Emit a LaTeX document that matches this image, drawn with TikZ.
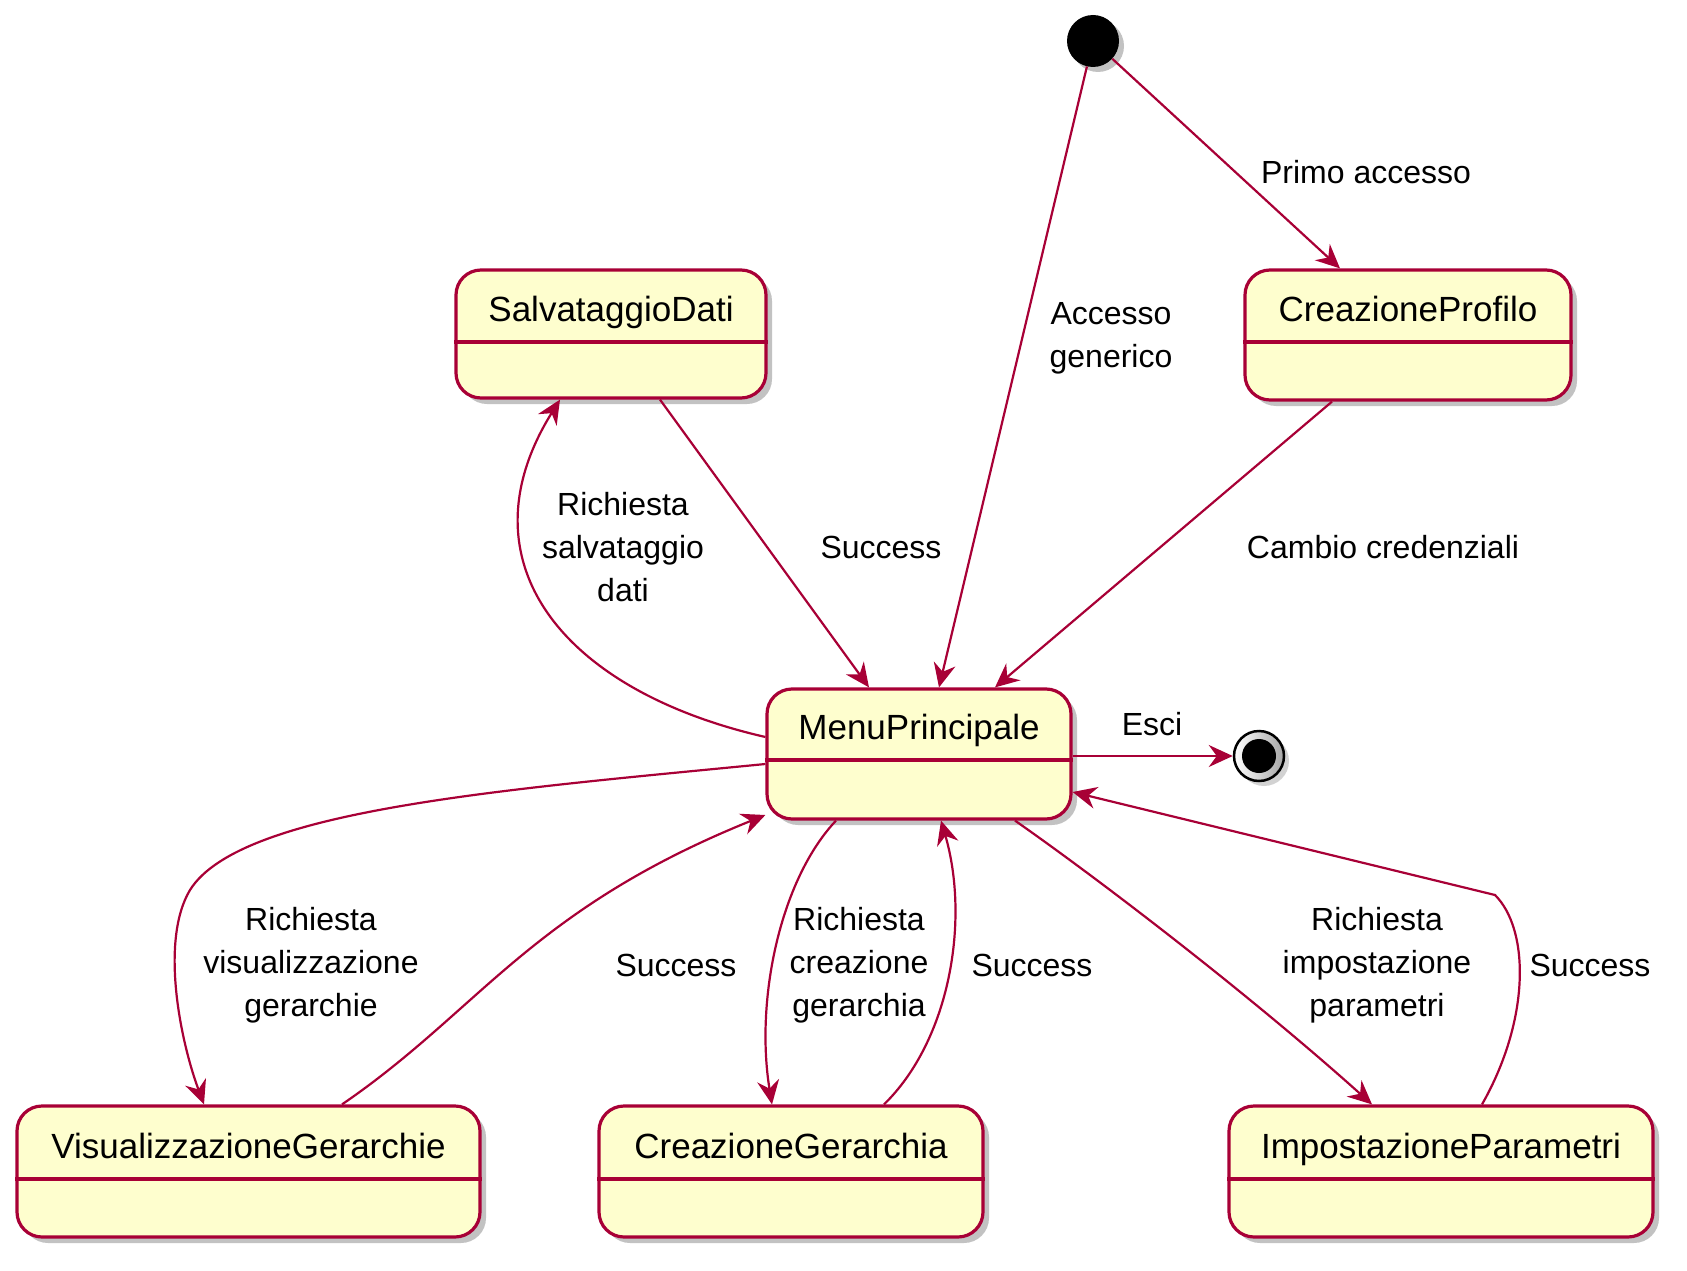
\documentclass[tikz,border=0pt]{standalone}
\usepackage{fontspec}
\newfontfamily\umlfont{Liberation Sans}
\usetikzlibrary{arrows.meta,shadows,calc}
\definecolor{bord}{HTML}{A80036}
\definecolor{statefill}{HTML}{FEFECE}
\newcommand\stfont{\umlfont\fontsize{35}{42}\selectfont}
\newcommand\lbfont{\umlfont\fontsize{32}{43}\selectfont}
\tikzset{
  stbox/.style={draw=bord, fill=statefill, line width=3.2pt, rounded corners=25pt,
    inner sep=0pt,
    drop shadow={shadow xshift=6pt, shadow yshift=-6pt, fill=black!40, opacity=0.6}},
  sname/.style={font=\stfont, anchor=base, inner sep=0pt},
  divline/.style={draw=bord, line width=3.2pt},
  lbl/.style={font=\lbfont, align=center, inner sep=0pt},
  tr/.style={draw=bord, line width=2.2pt, -{Stealth[length=24pt, width=22pt, inset=8pt]}}
}
\begin{document}
\begin{tikzpicture}[x=1pt, y=-1pt]
\useasboundingbox (0,0) rectangle (1687,1271);

% initial and final states
\node[circle, fill=black, minimum size=52pt, inner sep=0pt,
  drop shadow={shadow xshift=5pt, shadow yshift=-5pt, fill=black!40, opacity=0.6}] (start) at (1093,41) {};
\node[circle, draw=black, line width=2.5pt, left color=white, right color=gray!70, minimum size=50pt, inner sep=0pt,
  drop shadow={shadow xshift=5pt, shadow yshift=-5pt, fill=black!35, opacity=0.5}] (end) at (1259,756) {};
\node[circle, fill=black, minimum size=34pt, inner sep=0pt] (endIn) at (1259,756) {};

% states
\node[stbox, minimum width=310pt, minimum height=128pt] (salv) at (611,334) {};
\node[sname] (salvT) at (611,321) {SalvataggioDati};
\draw[divline] (salv.west |- 0,342) -- (salv.east |- 0,342);

\node[stbox, minimum width=326pt, minimum height=130pt] (cprof) at (1408,335) {};
\node[sname] (cprofT) at (1408,321) {CreazioneProfilo};
\draw[divline] (cprof.west |- 0,342) -- (cprof.east |- 0,342);

\node[stbox, minimum width=304pt, minimum height=130pt] (menu) at (919,754) {};
\node[sname] (menuT) at (919,739) {MenuPrincipale};
\draw[divline] (menu.west |- 0,760) -- (menu.east |- 0,760);

\node[stbox, minimum width=463pt, minimum height=131pt] (vis) at (248.5,1171.5) {};
\node[sname] (visT) at (248.5,1158) {VisualizzazioneGerarchie};
\draw[divline] (vis.west |- 0,1179) -- (vis.east |- 0,1179);

\node[stbox, minimum width=384pt, minimum height=131pt] (cger) at (791,1171.5) {};
\node[sname] (cgerT) at (791,1158) {CreazioneGerarchia};
\draw[divline] (cger.west |- 0,1179) -- (cger.east |- 0,1179);

\node[stbox, minimum width=424pt, minimum height=131pt] (imp) at (1441,1171.5) {};
\node[sname] (impT) at (1441,1158) {ImpostazioneParametri};
\draw[divline] (imp.west |- 0,1179) -- (imp.east |- 0,1179);

% transitions
\draw[tr] (start) -- (menu.north -| 939,0);
\draw[tr] (start) -- (cprof.north -| 1340,0);
\draw[tr] (cprof.south -| 1332,0) -- (menu.north -| 995,0);
\draw[tr] (salv.south -| 660,0) -- (menu.north -| 869,0);
\draw[tr] (menu.west |- 0,737) .. controls (560,690) and (460,560) .. (salv.south -| 560,0);
\draw[tr] (menu.west |- 0,764) .. controls (500,790) and (240,810) .. (190,890)
  .. controls (160,940) and (180,1040) .. (vis.north -| 204,0);
\draw[tr] (vis.north -| 342,0) .. controls (480,1010) and (530,910) .. (menu.west |- 0,815);
\draw[tr] (menu.south -| 836,0) .. controls (780,880) and (755,1000) .. (cger.north -| 772,0);
\draw[tr] (cger.north -| 884,0) .. controls (950,1040) and (970,920) .. (menu.south -| 941,0);
\draw[tr] (menu.south -| 1015,0) .. controls (1100,880) and (1250,995) .. (imp.north -| 1372,0);
\draw[tr] (imp.north -| 1482,0) .. controls (1530,1020) and (1530,930) .. (1495,895) -- (menu.east |- 0,792);
\draw[tr] (menu.east |- 0,756) -- (end);

% labels
\node[lbl] (l1) at (1366,172) {Primo accesso};
\node[lbl] (l2) at (1111,338) {Accesso\\generico};
\node[lbl] (l3) at (623,547) {Richiesta\\salvataggio\\dati};
\node[lbl] (l4) at (881,547) {Success};
\node[lbl] (l5) at (1383,547) {Cambio credenziali};
\node[lbl] (l6) at (1152,724) {Esci};
\node[lbl] (l7) at (311,965) {Richiesta\\visualizzazione\\gerarchie};
\node[lbl] (l8) at (676,965) {Success};
\node[lbl] (l9) at (859,965) {Richiesta\\creazione\\gerarchia};
\node[lbl] (l10) at (1032,965) {Success};
\node[lbl] (l11) at (1377,965) {Richiesta\\impostazione\\parametri};
\node[lbl] (l12) at (1590,965) {Success};
\end{tikzpicture}
\end{document}
